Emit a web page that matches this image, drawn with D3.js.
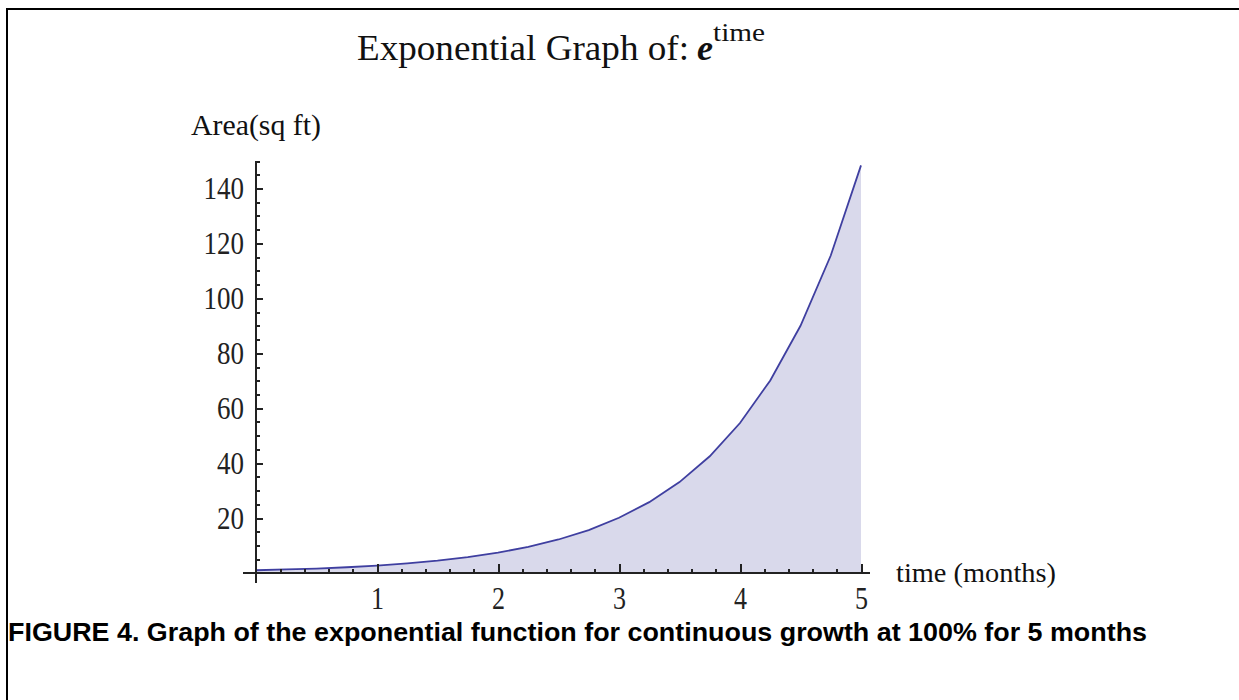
<!DOCTYPE html>
<html>
<head>
<meta charset="utf-8">
<script src="https://cdn.jsdelivr.net/npm/d3@7"></script>
<style>
  body { margin: 0; background: #fff; }
  svg { display: block; }
  .serif { font-family: "Liberation Serif", "DejaVu Serif", serif; fill: #111; }
  .axis path, .axis line { stroke: #222; stroke-width: 2; shape-rendering: crispEdges; }
  .axis text { font-family: "Liberation Serif", serif; font-size: 32px; fill: #222; }
</style>
</head>
<body>
<div id="chart"></div>
<script>
// values
const time = [0, 0.25, 0.5, 0.75, 1, 1.25, 1.5, 1.75, 2, 2.25, 2.5, 2.75, 3, 3.25, 3.5, 3.75, 4, 4.25, 4.5, 4.75, 5];
const area = [1.0, 1.3, 1.6, 2.1, 2.7, 3.5, 4.5, 5.8, 7.4, 9.5, 12.2, 15.6, 20.1, 25.8, 33.1, 42.5, 54.6, 70.1, 90.0, 115.6, 148.4];
const xTicks = [1, 2, 3, 4, 5];
const yTicks = [20, 40, 60, 80, 100, 120, 140];

const W = 1239, H = 700;
const svg = d3.select('#chart').append('svg')
  .attr('width', W)
  .attr('height', H);

// frame (top + left edge only)
svg.append('path')
  .attr('d', `M7,${H} V9 H${W}`)
  .attr('fill', 'none')
  .attr('stroke', '#000')
  .attr('stroke-width', 2);

const x = d3.scaleLinear().domain([0, 5]).range([256, 861]);
const y = d3.scaleLinear().domain([0, 150]).range([573, 161]);

const pts = time.map((t, i) => ({ t, v: area[i] }));

// filled area under the curve
svg.append('path')
  .datum(pts)
  .attr('fill', '#d9d9eb')
  .attr('d', d3.area().x(d => x(d.t)).y0(y(0)).y1(d => y(d.v)));

svg.append('path')
  .datum(pts)
  .attr('fill', 'none')
  .attr('stroke', '#3f3fa0')
  .attr('stroke-width', 1.8)
  .attr('d', d3.line().x(d => x(d.t)).y(d => y(d.v)));

// minor ticks
const xMinor = d3.range(0.2, 5.01, 0.2).filter(v => Math.abs(v - Math.round(v)) > 0.01);
const yMinor = d3.range(5, 150.1, 5).filter(v => v % 20 !== 0);

svg.append('g').attr('class', 'axis')
  .attr('transform', `translate(0,${y(0)})`)
  .call(d3.axisBottom(x).tickValues(xMinor).tickSize(-4).tickFormat(''))
  .call(g => g.select('.domain').remove());

svg.append('g').attr('class', 'axis')
  .attr('transform', `translate(${x(0)},0)`)
  .call(d3.axisLeft(y).tickValues(yMinor).tickSize(-4).tickFormat(''))
  .call(g => g.select('.domain').remove());

// major ticks + labels
const xAxis = svg.append('g').attr('class', 'axis')
  .attr('transform', `translate(0,${y(0)})`)
  .call(d3.axisBottom(x).tickValues(xTicks).tickSize(-9).tickPadding(14).tickFormat(d3.format('d')))
  .call(g => g.select('.domain').remove());
xAxis.selectAll('text')
  .attr('dy', '0.68em')
  .attr('textLength', 13)
  .attr('lengthAdjust', 'spacingAndGlyphs');

const yAxis = svg.append('g').attr('class', 'axis')
  .attr('transform', `translate(${x(0)},0)`)
  .call(d3.axisLeft(y).tickValues(yTicks).tickSize(-7).tickPadding(12).tickFormat(d3.format('d')))
  .call(g => g.select('.domain').remove());
yAxis.selectAll('text')
  .attr('textLength', d => String(d).length * 13.5)
  .attr('lengthAdjust', 'spacingAndGlyphs');

// axis lines
svg.append('line')
  .attr('x1', 243).attr('x2', 870).attr('y1', y(0)).attr('y2', y(0))
  .attr('stroke', '#222').attr('stroke-width', 2);
svg.append('line')
  .attr('x1', x(0)).attr('x2', x(0)).attr('y1', y(150)).attr('y2', 583)
  .attr('stroke', '#222').attr('stroke-width', 2);

// title
const title = svg.append('g').attr('class', 'serif');
title.append('text')
  .attr('x', 357).attr('y', 60)
  .attr('font-size', 35)
  .attr('textLength', 332).attr('lengthAdjust', 'spacingAndGlyphs')
  .text('Exponential Graph of:');
title.append('text')
  .attr('x', 697).attr('y', 60)
  .attr('font-size', 36).attr('font-style', 'italic').attr('font-weight', 'bold')
  .text('e');
title.append('text')
  .attr('x', 713).attr('y', 41)
  .attr('font-size', 26)
  .attr('textLength', 52).attr('lengthAdjust', 'spacingAndGlyphs')
  .text('time');

// axis labels
svg.append('text').attr('class', 'serif')
  .attr('x', 191).attr('y', 135)
  .attr('font-size', 30)
  .attr('textLength', 130).attr('lengthAdjust', 'spacingAndGlyphs')
  .text('Area(sq ft)');

svg.append('text').attr('class', 'serif')
  .attr('x', 896).attr('y', 582)
  .attr('font-size', 27)
  .attr('textLength', 160).attr('lengthAdjust', 'spacingAndGlyphs')
  .text('time (months)');

// caption
svg.append('text')
  .attr('x', 8).attr('y', 641)
  .attr('font-family', '"Liberation Sans", Arial, sans-serif')
  .attr('font-weight', 'bold')
  .attr('font-size', 26)
  .attr('textLength', 1139).attr('lengthAdjust', 'spacingAndGlyphs')
  .text('FIGURE 4. Graph of the exponential function for continuous growth at 100% for 5 months');
</script>
</body>
</html>
